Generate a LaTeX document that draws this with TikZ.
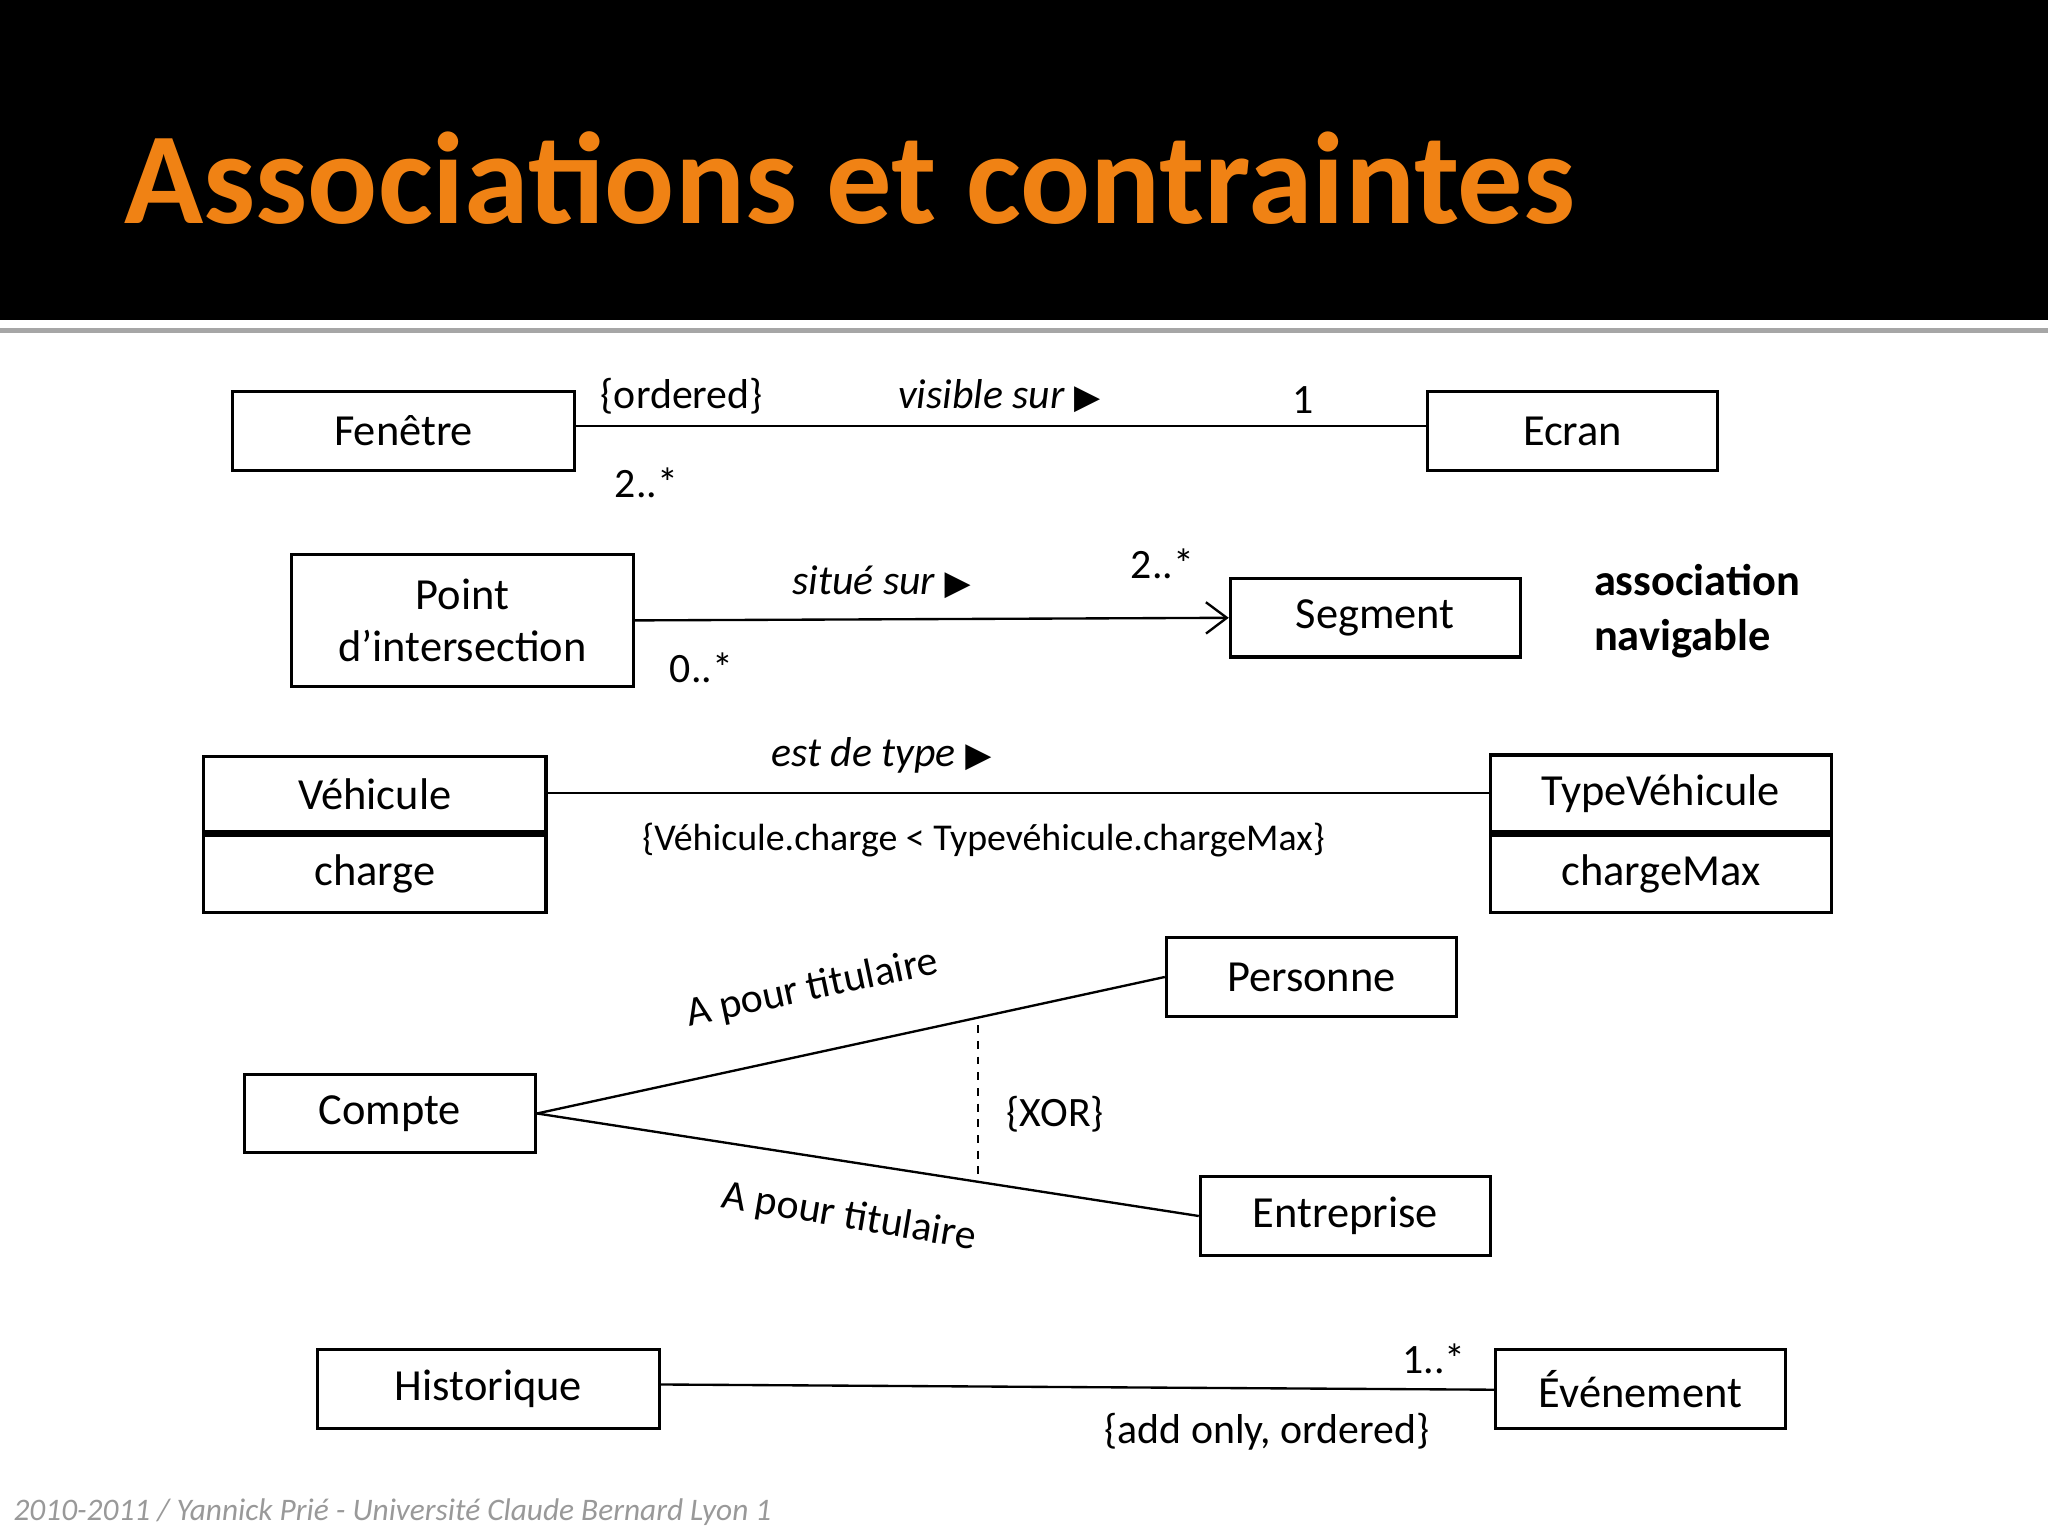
\documentclass[tikz,border=0pt]{standalone}
\usepackage{fontspec}
\setmainfont{Carlito}
\newfontfamily\symf{DejaVu Sans}
\usetikzlibrary{arrows.meta}
\definecolor{titleor}{RGB}{240,130,20}
\tikzset{
 x=0.5pt,y=-0.5pt,
 cbox/.style={draw,line width=1.2pt,inner sep=0pt,font=\fontsize{17}{20}\selectfont},
 lbl/.style={font=\fontsize{16}{19}\selectfont,inner sep=0pt},
 asl/.style={line width=0.9pt},
}
\newcommand{\tri}{{\symf\fontsize{13}{13}\selectfont ▶}}
\begin{document}
\begin{tikzpicture}
\useasboundingbox (0,0) rectangle (1568,1176);
\fill[white] (0,0) rectangle (1568,1176);
\fill[black] (0,0) rectangle (1568,245);
\fill[gray!70] (0,251) rectangle (1568,255);
\node[anchor=west,text=titleor,font=\fontsize{50}{56}\selectfont\bfseries,inner sep=0pt] (title) at (95,136) {Associations et contraintes};
\node[anchor=west,text=gray!80,font=\fontsize{12}{14}\selectfont\itshape,inner sep=0pt] (foot) at (10,1158) {2010-2011 / Yannick Prié - Université Claude Bernard Lyon 1};

% row 1
\node[cbox,minimum width=131pt,minimum height=30pt] (fen) at (309,330) {Fenêtre};
\node[cbox,minimum width=111pt,minimum height=30pt] (ecr) at (1204,330) {Ecran};
\draw[asl] (fen.east |- 0,326) coordinate (f1) -- (ecr.west |- 0,326);
\node[lbl] (ord) at (522,303) {\{ordered\}};
\node[lbl] (vis) at (765,303) {\itshape visible sur \tri};
\node[lbl] (m1) at (998,306) {1};
\node[lbl] (m2) at (495,370) {2..*};

% row 2
\node[cbox,minimum width=131pt,minimum height=50.5pt,align=center] (pt) at (354,475) {Point\\d’intersection};
\node[cbox,minimum width=111pt,minimum height=30pt] (seg) at (1053,473) {Segment};
\draw[asl,-{Straight Barb[length=8pt,width=12pt]}] (pt.east) -- (seg.west);
\node[lbl] (sit) at (675,446) {\itshape situé sur \tri};
\node[lbl] (m3) at (890,432) {2..*};
\node[lbl] (m4) at (537,511) {0..*};
\node[lbl,anchor=west,align=left,font=\fontsize{17}{21}\selectfont\bfseries] (nav) at (1220,468) {association\\navigable};

% row 3
\node[cbox,minimum width=131pt,minimum height=29pt] (veh) at (287,608) {Véhicule};
\node[cbox,minimum width=131pt,minimum height=29.5pt,anchor=north] (vc) at (veh.south) {charge};
\draw[line width=2pt] (veh.south west) -- (veh.south east);
\node[cbox,minimum width=130.5pt,minimum height=29.5pt] (tv) at (1271.5,607.5) {TypeVéhicule};
\node[cbox,minimum width=130.5pt,minimum height=29.5pt,anchor=north] (tvc) at (tv.south) {chargeMax};
\draw[asl] (veh.east |- 0,607) -- (tv.west |- 0,607);
\node[lbl] (edt) at (675,578) {\itshape est de type \tri};
\node[lbl,font=\fontsize{14.5}{17}\selectfont] (cons) at (753,643) {\{Véhicule.charge < Typevéhicule.chargeMax\}};

% row 4
\node[cbox,minimum width=111pt,minimum height=30pt] (per) at (1004,748) {Personne};
\node[cbox,minimum width=111.5pt,minimum height=30pt] (cpt) at (298.5,852.5) {Compte};
\node[cbox,minimum width=111pt,minimum height=30pt] (ent) at (1030,931) {Entreprise};
\draw[asl] (cpt.east) -- (per.west);
\draw[asl] (cpt.east) -- (ent.west);
\coordinate (x1) at (749,785);
\coordinate (x2) at (749,900);
\draw[asl,dashed] (x1) -- (x2);
\node[lbl] (xor) at (808,853) {\{XOR\}};
\node[lbl,rotate=12] (t1) at (622,757) {A pour titulaire};
\node[lbl,rotate=-9.5] (t2) at (650,932) {A pour titulaire};

% row 5
\node[cbox,minimum width=131pt,minimum height=30pt] (his) at (374,1063.5) {Historique};
\node[cbox,minimum width=111pt,minimum height=30pt] (evt) at (1256,1063.5) {Événement};
\draw[asl] (his.east |- 0,1060) -- (evt.west |- 0,1064);
\node[lbl] (m5) at (1098,1040) {1..*};
\node[lbl] (add) at (970,1096) {\{add only, ordered\}};
\end{tikzpicture}
\end{document}
